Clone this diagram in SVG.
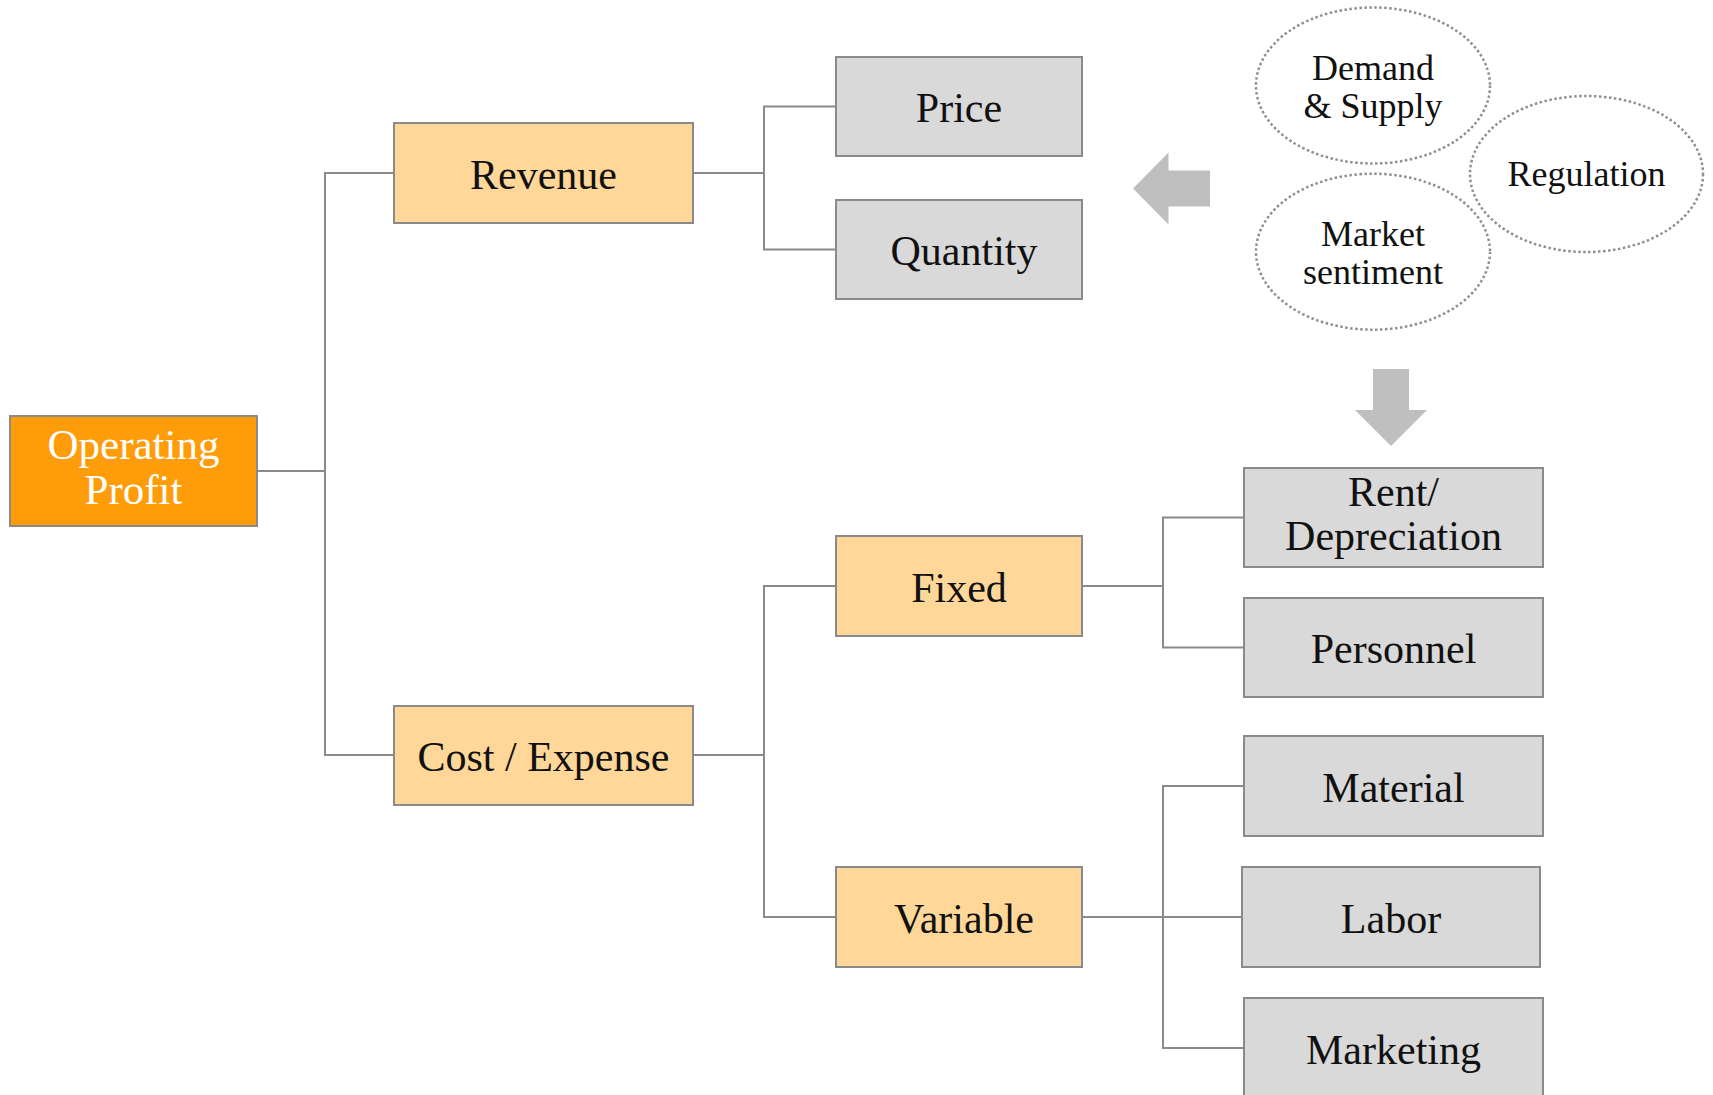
<svg xmlns="http://www.w3.org/2000/svg" width="1713" height="1095" viewBox="0 0 1713 1095">
<style>
  text { font-family: "Liberation Serif", "Times New Roman", serif; text-anchor: middle; fill: #111; }
  .t { font-size: 42px; }
  .te { font-size: 36px; }
  .root rect { fill: #FF9C0A; stroke: #8A8A8A; stroke-width: 2; }
  .root text { fill: #FFFFFF; font-size: 43px; }
  .mid rect { fill: #FFD799; stroke: #8A8A8A; stroke-width: 2; }
  .leaf rect { fill: #D9D9D9; stroke: #8A8A8A; stroke-width: 2; }
  .drv ellipse { fill: none; stroke: #8F8F8F; stroke-width: 2.5; stroke-dasharray: 2.5 2.5; }
  .conn path { fill: none; stroke: #8A8A8A; stroke-width: 2; }
  .arrow { fill: #BFBFBF; }
</style>
<rect x="0" y="0" width="1713" height="1095" fill="#FFFFFF"/>

<g id="connectors" class="conn">
  <path d="M257 471 H325"/>
  <path d="M394 173 H325 V755 H394"/>
  <path d="M693 173 H764"/>
  <path d="M836 106.5 H764 V249.5 H836"/>
  <path d="M693 755 H764"/>
  <path d="M836 586 H764 V917 H836"/>
  <path d="M1082 586 H1163"/>
  <path d="M1244 517.5 H1163 V647.5 H1244"/>
  <path d="M1082 917 H1242"/>
  <path d="M1244 786 H1163 V1048 H1244"/>
</g>

<g id="node-operating-profit" class="root">
  <rect x="10" y="416" width="247" height="110"/>
  <text x="133.5" y="459">Operating</text>
  <text x="133.5" y="504">Profit</text>
</g>

<g id="node-revenue" class="mid">
  <rect x="394" y="123" width="299" height="100"/>
  <text class="t" x="543.5" y="189">Revenue</text>
</g>
<g id="node-cost" class="mid">
  <rect x="394" y="706" width="299" height="99"/>
  <text class="t" x="543.5" y="771">Cost / Expense</text>
</g>

<g id="node-price" class="leaf">
  <rect x="836" y="57" width="246" height="99"/>
  <text class="t" x="959" y="122">Price</text>
</g>
<g id="node-quantity" class="leaf">
  <rect x="836" y="200" width="246" height="99"/>
  <text class="t" x="964" y="265">Quantity</text>
</g>

<g id="node-fixed" class="mid">
  <rect x="836" y="536" width="246" height="100"/>
  <text class="t" x="959" y="602">Fixed</text>
</g>
<g id="node-variable" class="mid">
  <rect x="836" y="867" width="246" height="100"/>
  <text class="t" x="964" y="933">Variable</text>
</g>

<g id="node-rent" class="leaf">
  <rect x="1244" y="468" width="299" height="99"/>
  <text class="t" x="1393.5" y="506">Rent/</text>
  <text class="t" x="1393.5" y="550">Depreciation</text>
</g>
<g id="node-personnel" class="leaf">
  <rect x="1244" y="598" width="299" height="99"/>
  <text class="t" x="1393.5" y="663">Personnel</text>
</g>
<g id="node-material" class="leaf">
  <rect x="1244" y="736" width="299" height="100"/>
  <text class="t" x="1393.5" y="802">Material</text>
</g>
<g id="node-labor" class="leaf">
  <rect x="1242" y="867" width="298" height="100"/>
  <text class="t" x="1391" y="933">Labor</text>
</g>
<g id="node-marketing" class="leaf">
  <rect x="1244" y="998" width="299" height="110"/>
  <text class="t" x="1393.5" y="1064">Marketing</text>
</g>

<g id="node-demand" class="drv">
  <ellipse cx="1373" cy="85.5" rx="117" ry="78"/>
  <text class="te" x="1373" y="80">Demand</text>
  <text class="te" x="1373" y="118">&amp; Supply</text>
</g>
<g id="node-regulation" class="drv">
  <ellipse cx="1586.5" cy="174" rx="116.5" ry="78"/>
  <text class="te" x="1586.5" y="186">Regulation</text>
</g>
<g id="node-market" class="drv">
  <ellipse cx="1373" cy="251.7" rx="117" ry="78"/>
  <text class="te" x="1373" y="246">Market</text>
  <text class="te" x="1373" y="284">sentiment</text>
</g>

<g id="arrows">
  <polygon class="arrow" points="1133,188.5 1168.5,152.5 1168.5,170.5 1210,170.5 1210,206.5 1168.5,206.5 1168.5,224.5"/>
  <polygon class="arrow" points="1373,369 1409,369 1409,410 1427,410 1391,446 1355,410 1373,410"/>
</g>
</svg>
